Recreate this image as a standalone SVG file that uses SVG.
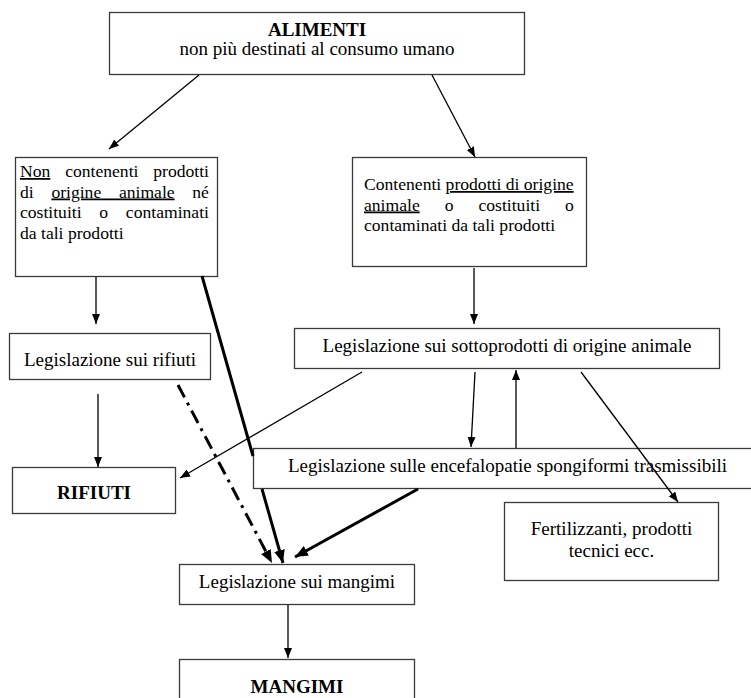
<svg xmlns="http://www.w3.org/2000/svg" width="751" height="698" viewBox="0 0 751 698">
<style>
.box{fill:#fff;stroke:#3a3a3a;stroke-width:1.3}
.t{font-family:"Liberation Serif","Times New Roman",serif;font-size:19px;fill:#000}
.d{font-family:"Liberation Serif","Times New Roman",serif;font-size:17.6px;fill:#000}
.b{font-weight:bold}
.c{text-anchor:middle}
.u{text-decoration:underline}
.ln{fill:none;stroke:#000;stroke-width:1.3}
.th{fill:none;stroke:#000;stroke-width:3}
.dd{fill:none;stroke:#000;stroke-width:3;stroke-dasharray:14 6 3 6}
</style>
<defs>
<marker id="ah" viewBox="0 0 10 8" refX="10" refY="4" markerWidth="10" markerHeight="8" markerUnits="userSpaceOnUse" orient="auto"><path d="M0,0 L10,4 L0,8 z" fill="#000"/></marker>
<marker id="ahb" viewBox="0 0 12 10" refX="12" refY="5" markerWidth="13" markerHeight="11" markerUnits="userSpaceOnUse" orient="auto"><path d="M0,0 L12,5 L0,10 z" fill="#000"/></marker>
</defs>
<rect width="751" height="698" fill="#fff"/>

<g id="alimenti">
<rect class="box" x="109.5" y="12.5" width="415" height="62"/>
<text class="t b c" x="317" y="36">ALIMENTI</text>
<text class="t c" x="317" y="55">non più destinati al consumo umano</text>
</g>

<g id="non-contenenti">
<rect class="box" x="15.5" y="157.5" width="202" height="119"/>
<text class="d" x="20" y="177" word-spacing="10.45"><tspan class="u">Non</tspan> contenenti prodotti</text>
<text class="d" x="20" y="197.5" word-spacing="13.3">di <tspan class="u">origine animale</tspan> né</text>
<text class="d" x="20" y="218" word-spacing="13.35">costituiti o contaminati</text>
<text class="d" x="20" y="238.5">da tali prodotti</text>
</g>

<g id="contenenti">
<rect class="box" x="352.5" y="157.5" width="234" height="109"/>
<text class="d" x="364" y="190">Contenenti <tspan class="u">prodotti di origine</tspan></text>
<text class="d" x="364" y="210.5" word-spacing="20.6"><tspan class="u">animale</tspan> o costituiti o</text>
<text class="d" x="364" y="231">contaminati da tali prodotti</text>
</g>

<g id="leg-rifiuti">
<rect class="box" x="9.5" y="333.5" width="201" height="46"/>
<text class="t c" x="110" y="366">Legislazione sui rifiuti</text>
</g>

<g id="leg-sottoprodotti">
<rect class="box" x="294.5" y="328.5" width="425" height="40"/>
<text class="t c" x="507" y="352">Legislazione sui sottoprodotti di origine animale</text>
</g>

<g id="rifiuti">
<rect class="box" x="12.5" y="467.5" width="163" height="46"/>
<text class="t b c" x="94" y="499">RIFIUTI</text>
</g>

<g id="leg-tse">
<rect class="box" x="253.5" y="448.5" width="510" height="40"/>
<text class="t c" x="507.5" y="472">Legislazione sulle encefalopatie spongiformi trasmissibili</text>
</g>

<g id="fertilizzanti">
<rect class="box" x="504.5" y="502.5" width="214" height="78"/>
<text class="t c" x="611.5" y="535">Fertilizzanti, prodotti</text>
<text class="t c" x="611.5" y="557">tecnici ecc.</text>
</g>

<g id="leg-mangimi">
<rect class="box" x="179.5" y="564.5" width="235" height="40"/>
<text class="t c" x="297" y="588">Legislazione sui mangimi</text>
</g>

<g id="mangimi">
<rect class="box" x="179.5" y="659.5" width="235" height="60"/>
<text class="t b c" x="297" y="693">MANGIMI</text>
</g>

<g id="connectors">
<path class="ln" d="M199,75 L109,149" marker-end="url(#ah)"/>
<path class="ln" d="M432,75 L475,157" marker-end="url(#ah)"/>
<path class="ln" d="M96,277 L96,324" marker-end="url(#ah)"/>
<path class="ln" d="M98,394 L98,467" marker-end="url(#ah)"/>
<path class="ln" d="M474,268 L474,324" marker-end="url(#ah)"/>
<path class="ln" d="M362,372 L180,478" marker-end="url(#ah)"/>
<path class="ln" d="M475,372 L471,447" marker-end="url(#ah)"/>
<path class="ln" d="M516,448 L516,370" marker-end="url(#ah)"/>
<path class="ln" d="M581,372 L678,502" marker-end="url(#ah)"/>
<path class="ln" d="M288,605 L288,658" marker-end="url(#ah)"/>
<path class="th" d="M202,276 L253,456 M262,489 L283,563" marker-end="url(#ahb)"/>
<path class="dd" d="M178,385 L272,563" marker-end="url(#ahb)"/>
<path class="th" d="M418,489 L295,557" marker-end="url(#ahb)"/>
</g>
</svg>
